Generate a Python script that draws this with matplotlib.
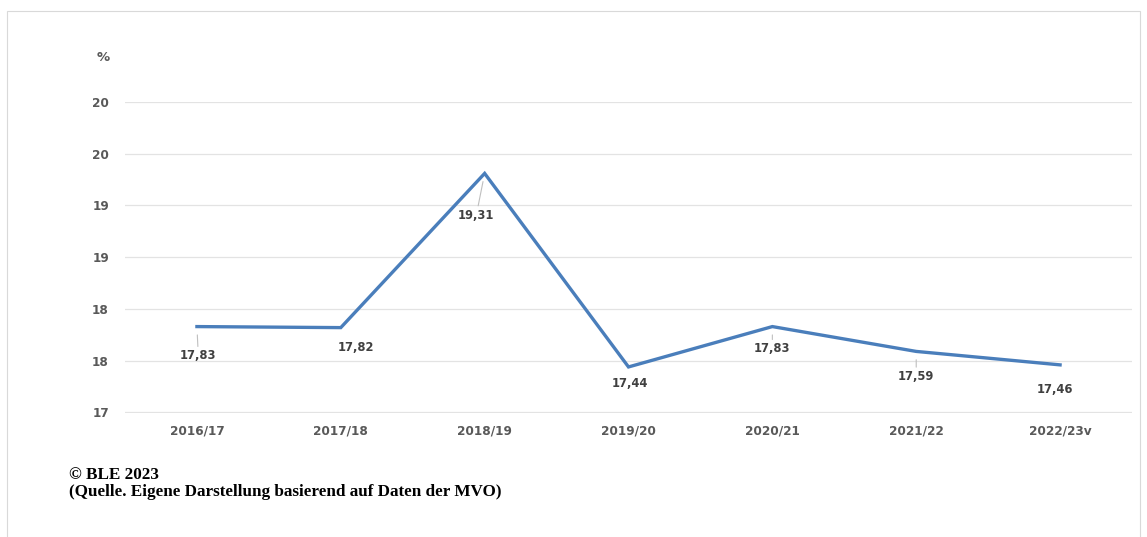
import matplotlib.pyplot as plt
from matplotlib.patches import Rectangle

# Wirtschaftsjahre und Werte in %
jahre = ['2016/17', '2017/18', '2018/19', '2019/20', '2020/21', '2021/22', '2022/23v']
werte = [17.83, 17.82, 19.31, 17.44, 17.83, 17.59, 17.46]
# Versatz der Datenbeschriftungen (Punkte) und ob eine Führungslinie gezeichnet wird
versatz = [(1, -21), (11, -14), (-6, -30), (1, -12), (0, -16), (0, -18), (-4, -18)]
fuehrung = [True, False, True, False, True, True, False]

yticks = [17.0, 17.5, 18.0, 18.5, 19.0, 19.5, 20.0]

fig = plt.figure(figsize=(11.47, 5.37), dpi=100)
ax = fig.add_axes([125 / 1147, 1 - 413 / 537, 1007 / 1147, 311 / 537])

x = range(len(jahre))
ax.plot(x, werte, color='#4a7ebb', lw=2.4, solid_joinstyle='miter', zorder=3)

for i, (w, (dx, dy), f) in enumerate(zip(werte, versatz, fuehrung)):
    label = f'{w:.2f}'.replace('.', ',')
    if f:
        ax.annotate(label, (i, w), xytext=(dx, dy), textcoords='offset points',
                    ha='center', va='center', fontsize=8.3, fontweight='bold', color='#404040',
                    arrowprops=dict(arrowstyle='-', color='#bfbfbf', lw=0.8,
                                    shrinkA=0, shrinkB=6))
    else:
        ax.annotate(label, (i, w), xytext=(dx, dy), textcoords='offset points',
                    ha='center', va='center', fontsize=8.3, fontweight='bold', color='#404040')

ax.set_xlim(-0.5, len(jahre) - 0.5)
ax.set_ylim(16.995, 20)
ax.set_yticks(yticks)
ax.set_yticklabels([f'{int(v + 0.5)}' for v in yticks])
ax.set_xticks(list(x))
ax.set_xticklabels(jahre)
ax.grid(axis='y', color='#e3e3e3', lw=0.9)
ax.set_axisbelow(True)
for s in ax.spines.values():
    s.set_visible(False)
ax.tick_params(length=0, colors='#595959', labelsize=8.7)
ax.tick_params(axis='y', pad=11.5)
ax.tick_params(axis='x', pad=8)
for t in ax.get_xticklabels() + ax.get_yticklabels():
    t.set_fontweight('bold')

fig.text(103 / 1147, 1 - 57 / 537, '%', ha='center', va='center',
         fontsize=9.5, fontweight='bold', color='#595959')

# Quellenangabe
fig.text(69 / 1147, 1 - 475 / 537, '© BLE 2023', ha='left', va='center',
         family='Liberation Serif', fontweight='bold', fontsize=12.3, color='black')
fig.text(69 / 1147, 1 - 492 / 537, '(Quelle. Eigene Darstellung basierend auf Daten der MVO)',
         ha='left', va='center', family='Liberation Serif', fontweight='bold',
         fontsize=12.3, color='black')

# Rahmen
fig.patches.append(Rectangle((7 / 1147, -0.05), 1133 / 1147, 1.05 - 11 / 537,
                             transform=fig.transFigure, fill=False,
                             edgecolor='#d9d9d9', lw=0.8))

fig.savefig('out.png', dpi=100)
